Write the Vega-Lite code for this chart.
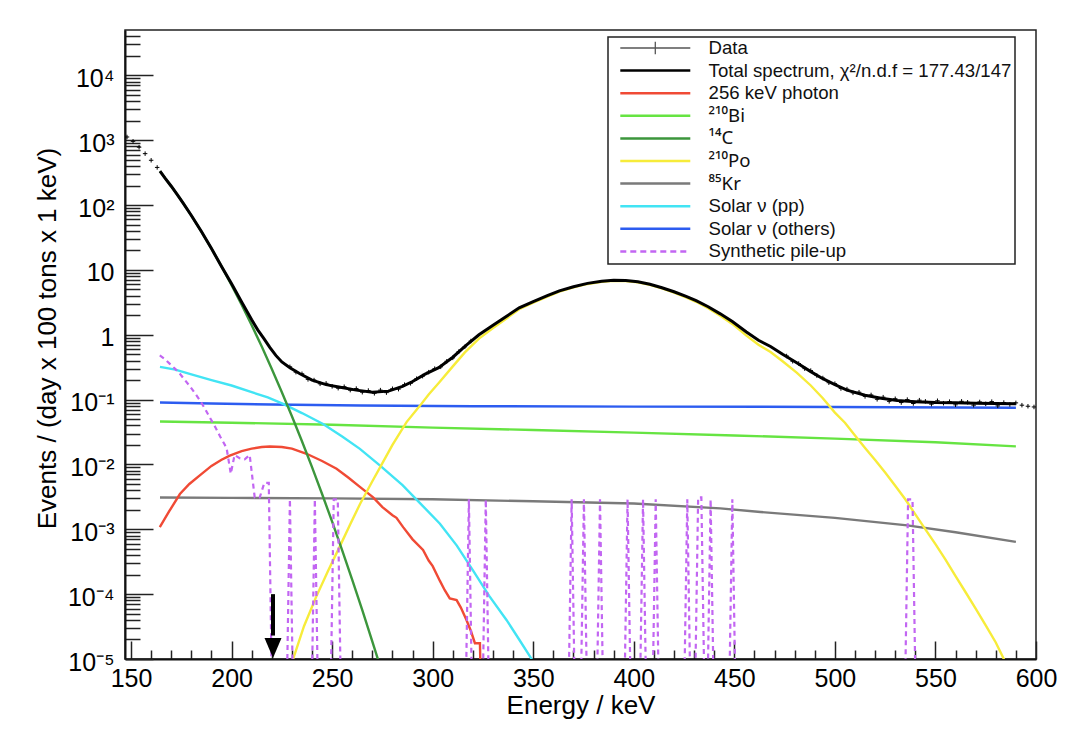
{
  "$schema": "https://vega.github.io/schema/vega-lite/v6.json",
  "width": 911,
  "height": 629,
  "autosize": {"type": "none"},
  "padding": {"left": 125, "top": 30, "right": 32, "bottom": 89},
  "background": "#ffffff",
  "config": {
    "font": "Liberation Sans",
    "view": {"stroke": "#222222", "strokeWidth": 1.5},
    "axis": {
      "grid": false,
      "domainColor": "#111111",
      "domainWidth": 2,
      "tickColor": "#222222",
      "tickWidth": 1.5,
      "ticks": true,
      "labelFont": "Liberation Sans",
      "labelFontSize": 25,
      "labelColor": "#000000",
      "labelOverlap": false,
      "labelFlush": false,
      "titleFont": "Liberation Sans",
      "titleFontSize": 26,
      "titleFontWeight": "normal",
      "titleColor": "#000000"
    }
  },
  "datasets": {
    "curves": [
      {"s": "Kr", "E": 164.4, "v": 0.0031}, {"s": "Kr", "E": 200, "v": 0.00305}, {"s": "Kr", "E": 250, "v": 0.003}, {"s": "Kr", "E": 300, "v": 0.0029}, {"s": "Kr", "E": 350, "v": 0.0027}, {"s": "Kr", "E": 400, "v": 0.0025}, {"s": "Kr", "E": 443, "v": 0.0021}, {"s": "Kr", "E": 463, "v": 0.00185}, {"s": "Kr", "E": 500, "v": 0.0015}, {"s": "Kr", "E": 536, "v": 0.00115}, {"s": "Kr", "E": 560, "v": 0.0009}, {"s": "Kr", "E": 590, "v": 0.00064},
      {"s": "Bi", "E": 164.4, "v": 0.046}, {"s": "Bi", "E": 200, "v": 0.044}, {"s": "Bi", "E": 250, "v": 0.041}, {"s": "Bi", "E": 300, "v": 0.037}, {"s": "Bi", "E": 350, "v": 0.034}, {"s": "Bi", "E": 400, "v": 0.031}, {"s": "Bi", "E": 450, "v": 0.028}, {"s": "Bi", "E": 500, "v": 0.025}, {"s": "Bi", "E": 550, "v": 0.022}, {"s": "Bi", "E": 590, "v": 0.019},
      {"s": "others", "E": 164.4, "v": 0.09}, {"s": "others", "E": 190, "v": 0.087}, {"s": "others", "E": 220, "v": 0.084}, {"s": "others", "E": 264, "v": 0.081}, {"s": "others", "E": 320, "v": 0.079}, {"s": "others", "E": 400, "v": 0.078}, {"s": "others", "E": 500, "v": 0.077}, {"s": "others", "E": 590, "v": 0.075},
      {"s": "pp", "E": 164.4, "v": 0.32}, {"s": "pp", "E": 172, "v": 0.29}, {"s": "pp", "E": 180, "v": 0.245}, {"s": "pp", "E": 190, "v": 0.2}, {"s": "pp", "E": 200, "v": 0.165}, {"s": "pp", "E": 210, "v": 0.13}, {"s": "pp", "E": 218, "v": 0.108}, {"s": "pp", "E": 225.6, "v": 0.086}, {"s": "pp", "E": 235, "v": 0.062}, {"s": "pp", "E": 245.5, "v": 0.042}, {"s": "pp", "E": 255, "v": 0.027}, {"s": "pp", "E": 263.8, "v": 0.0174}, {"s": "pp", "E": 273.7, "v": 0.0097}, {"s": "pp", "E": 285, "v": 0.0048}, {"s": "pp", "E": 295, "v": 0.0023}, {"s": "pp", "E": 303.6, "v": 0.00122}, {"s": "pp", "E": 312, "v": 0.00056}, {"s": "pp", "E": 320.1, "v": 0.00023}, {"s": "pp", "E": 328, "v": 0.000095}, {"s": "pp", "E": 336.7, "v": 0.00004}, {"s": "pp", "E": 343, "v": 0.00002}, {"s": "pp", "E": 349.2, "v": 0.00001}, {"s": "pp", "E": 351, "v": 0.000008},
      {"s": "Photon", "E": 164.3, "v": 0.00108}, {"s": "Photon", "E": 169, "v": 0.0019}, {"s": "Photon", "E": 174.3, "v": 0.0035}, {"s": "Photon", "E": 179, "v": 0.005}, {"s": "Photon", "E": 184.2, "v": 0.0068}, {"s": "Photon", "E": 190, "v": 0.0095}, {"s": "Photon", "E": 195, "v": 0.0118}, {"s": "Photon", "E": 199.1, "v": 0.0137}, {"s": "Photon", "E": 205, "v": 0.016}, {"s": "Photon", "E": 210, "v": 0.0175}, {"s": "Photon", "E": 215, "v": 0.0186}, {"s": "Photon", "E": 219, "v": 0.0189}, {"s": "Photon", "E": 225, "v": 0.0186}, {"s": "Photon", "E": 230, "v": 0.0175}, {"s": "Photon", "E": 237.3, "v": 0.0146}, {"s": "Photon", "E": 245, "v": 0.0113}, {"s": "Photon", "E": 252.2, "v": 0.0086}, {"s": "Photon", "E": 258, "v": 0.0063}, {"s": "Photon", "E": 263.8, "v": 0.0045}, {"s": "Photon", "E": 270.4, "v": 0.0031}, {"s": "Photon", "E": 275, "v": 0.0022}, {"s": "Photon", "E": 280, "v": 0.00165}, {"s": "Photon", "E": 282, "v": 0.0015}, {"s": "Photon", "E": 285.3, "v": 0.00108}, {"s": "Photon", "E": 290, "v": 0.0007}, {"s": "Photon", "E": 295.2, "v": 0.00048}, {"s": "Photon", "E": 298, "v": 0.00033}, {"s": "Photon", "E": 300, "v": 0.00027}, {"s": "Photon", "E": 303.6, "v": 0.00016}, {"s": "Photon", "E": 306, "v": 0.000115}, {"s": "Photon", "E": 308.5, "v": 0.000086}, {"s": "Photon", "E": 311.9, "v": 0.000081}, {"s": "Photon", "E": 314, "v": 0.000062}, {"s": "Photon", "E": 316.8, "v": 0.00004}, {"s": "Photon", "E": 319, "v": 0.000027}, {"s": "Photon", "E": 321, "v": 0.0000175}, {"s": "Photon", "E": 323.5, "v": 0.0000175}, {"s": "Photon", "E": 323.8, "v": 0.000006},
      {"s": "Po", "E": 229, "v": 0.000007}, {"s": "Po", "E": 230.6, "v": 0.00001}, {"s": "Po", "E": 236, "v": 0.000032}, {"s": "Po", "E": 242, "v": 0.00009}, {"s": "Po", "E": 248, "v": 0.00023}, {"s": "Po", "E": 254, "v": 0.00056}, {"s": "Po", "E": 259, "v": 0.0012}, {"s": "Po", "E": 264, "v": 0.0025}, {"s": "Po", "E": 270, "v": 0.0055}, {"s": "Po", "E": 275, "v": 0.0105}, {"s": "Po", "E": 280, "v": 0.02}, {"s": "Po", "E": 287, "v": 0.045}, {"s": "Po", "E": 293.6, "v": 0.08}, {"s": "Po", "E": 298, "v": 0.12}, {"s": "Po", "E": 303, "v": 0.18}, {"s": "Po", "E": 310, "v": 0.325}, {"s": "Po", "E": 316, "v": 0.535}, {"s": "Po", "E": 323, "v": 0.87}, {"s": "Po", "E": 330, "v": 1.27}, {"s": "Po", "E": 336, "v": 1.72}, {"s": "Po", "E": 343, "v": 2.47}, {"s": "Po", "E": 350, "v": 3.12}, {"s": "Po", "E": 357, "v": 3.87}, {"s": "Po", "E": 363, "v": 4.62}, {"s": "Po", "E": 370, "v": 5.37}, {"s": "Po", "E": 377, "v": 6.07}, {"s": "Po", "E": 384, "v": 6.57}, {"s": "Po", "E": 390, "v": 6.77}, {"s": "Po", "E": 396, "v": 6.72}, {"s": "Po", "E": 402, "v": 6.42}, {"s": "Po", "E": 408, "v": 5.87}, {"s": "Po", "E": 414, "v": 5.17}, {"s": "Po", "E": 420, "v": 4.47}, {"s": "Po", "E": 426, "v": 3.77}, {"s": "Po", "E": 431, "v": 3.22}, {"s": "Po", "E": 437, "v": 2.57}, {"s": "Po", "E": 443, "v": 1.97}, {"s": "Po", "E": 449, "v": 1.47}, {"s": "Po", "E": 456, "v": 0.97}, {"s": "Po", "E": 462, "v": 0.7}, {"s": "Po", "E": 468, "v": 0.54}, {"s": "Po", "E": 474, "v": 0.39}, {"s": "Po", "E": 481, "v": 0.26}, {"s": "Po", "E": 488, "v": 0.165}, {"s": "Po", "E": 494, "v": 0.105}, {"s": "Po", "E": 500, "v": 0.063}, {"s": "Po", "E": 505, "v": 0.044}, {"s": "Po", "E": 510, "v": 0.028}, {"s": "Po", "E": 515, "v": 0.018}, {"s": "Po", "E": 520, "v": 0.0117}, {"s": "Po", "E": 525, "v": 0.0075}, {"s": "Po", "E": 530, "v": 0.0047}, {"s": "Po", "E": 535, "v": 0.0029}, {"s": "Po", "E": 540, "v": 0.0017}, {"s": "Po", "E": 545, "v": 0.001}, {"s": "Po", "E": 550, "v": 0.00059}, {"s": "Po", "E": 555, "v": 0.00034}, {"s": "Po", "E": 560, "v": 0.00019}, {"s": "Po", "E": 565, "v": 0.000107}, {"s": "Po", "E": 570, "v": 0.00006}, {"s": "Po", "E": 575, "v": 0.000033}, {"s": "Po", "E": 580, "v": 0.000018}, {"s": "Po", "E": 584, "v": 0.00001}, {"s": "Po", "E": 586, "v": 0.000007},
      {"s": "C", "E": 164.4, "v": 331}, {"s": "C", "E": 170, "v": 195}, {"s": "C", "E": 175, "v": 118}, {"s": "C", "E": 180, "v": 68.9}, {"s": "C", "E": 185, "v": 38.9}, {"s": "C", "E": 190, "v": 21.3}, {"s": "C", "E": 195, "v": 11.35}, {"s": "C", "E": 200, "v": 5.83}, {"s": "C", "E": 205, "v": 2.9}, {"s": "C", "E": 210, "v": 1.4}, {"s": "C", "E": 215, "v": 0.656}, {"s": "C", "E": 220, "v": 0.297}, {"s": "C", "E": 225, "v": 0.13}, {"s": "C", "E": 230, "v": 0.0553}, {"s": "C", "E": 235, "v": 0.0228}, {"s": "C", "E": 240, "v": 0.00908}, {"s": "C", "E": 245, "v": 0.0035}, {"s": "C", "E": 250, "v": 0.00131}, {"s": "C", "E": 255, "v": 0.000474}, {"s": "C", "E": 260, "v": 0.000166}, {"s": "C", "E": 265, "v": 0.0000566}, {"s": "C", "E": 270, "v": 0.0000186}, {"s": "C", "E": 274, "v": 0.0000075}
    ],
    "total": [
      {"E": 164.4, "v": 333}, {"E": 167, "v": 258}, {"E": 170, "v": 195}, {"E": 173, "v": 145}, {"E": 176, "v": 106}, {"E": 180, "v": 69}, {"E": 185, "v": 39}, {"E": 190, "v": 21.3}, {"E": 195, "v": 11.3}, {"E": 200, "v": 6.1}, {"E": 205, "v": 3.2}, {"E": 210, "v": 1.7}, {"E": 213, "v": 1.19}, {"E": 216, "v": 0.88}, {"E": 219, "v": 0.64}, {"E": 222, "v": 0.48}, {"E": 225, "v": 0.38}, {"E": 229, "v": 0.31}, {"E": 234, "v": 0.25}, {"E": 240, "v": 0.2}, {"E": 247, "v": 0.17}, {"E": 254, "v": 0.155}, {"E": 262, "v": 0.14}, {"E": 270, "v": 0.13}, {"E": 278, "v": 0.135}, {"E": 285, "v": 0.16}, {"E": 290, "v": 0.19}, {"E": 296, "v": 0.245}, {"E": 303, "v": 0.31}, {"E": 310, "v": 0.45}, {"E": 316, "v": 0.66}, {"E": 323, "v": 1.0}, {"E": 330, "v": 1.4}, {"E": 336, "v": 1.86}, {"E": 343, "v": 2.6}, {"E": 350, "v": 3.25}, {"E": 357, "v": 4.0}, {"E": 363, "v": 4.75}, {"E": 370, "v": 5.5}, {"E": 377, "v": 6.2}, {"E": 384, "v": 6.7}, {"E": 390, "v": 6.9}, {"E": 396, "v": 6.85}, {"E": 402, "v": 6.55}, {"E": 408, "v": 6.0}, {"E": 414, "v": 5.3}, {"E": 420, "v": 4.6}, {"E": 426, "v": 3.9}, {"E": 431, "v": 3.35}, {"E": 437, "v": 2.7}, {"E": 443, "v": 2.1}, {"E": 449, "v": 1.6}, {"E": 456, "v": 1.1}, {"E": 462, "v": 0.82}, {"E": 468, "v": 0.66}, {"E": 474, "v": 0.5}, {"E": 481, "v": 0.37}, {"E": 488, "v": 0.27}, {"E": 494, "v": 0.21}, {"E": 500, "v": 0.17}, {"E": 506, "v": 0.14}, {"E": 515, "v": 0.117}, {"E": 523, "v": 0.105}, {"E": 531, "v": 0.097}, {"E": 540, "v": 0.093}, {"E": 550, "v": 0.09}, {"E": 560, "v": 0.089}, {"E": 570, "v": 0.088}, {"E": 580, "v": 0.087}, {"E": 590, "v": 0.086}
    ],
    "pileup": [
      {"E": 164.3, "v": 0.48}, {"E": 166.8, "v": 0.42}, {"E": 169.3, "v": 0.355}, {"E": 171.8, "v": 0.3}, {"E": 174.3, "v": 0.25}, {"E": 176.8, "v": 0.2}, {"E": 179.3, "v": 0.16}, {"E": 181.8, "v": 0.125}, {"E": 184.3, "v": 0.097}, {"E": 186.8, "v": 0.072}, {"E": 189.3, "v": 0.052}, {"E": 191.8, "v": 0.038}, {"E": 194.3, "v": 0.027}, {"E": 197.5, "v": 0.018}, {"E": 199.6, "v": 0.0072}, {"E": 201.5, "v": 0.014}, {"E": 204, "v": 0.0125}, {"E": 206.5, "v": 0.012}, {"E": 209, "v": 0.014}, {"E": 211.5, "v": 0.0031}, {"E": 214, "v": 0.0031}, {"E": 216.3, "v": 0.0052}, {"E": 218.5, "v": 0.0052}, {"E": 220.8, "v": 0.0000001},
      {"E": 226.7, "v": 0.0000001}, {"E": 229, "v": 0.0029}, {"E": 231.3, "v": 0.0000001},
      {"E": 239.1, "v": 0.0000001}, {"E": 241.4, "v": 0.0029}, {"E": 243.7, "v": 0.0000001},
      {"E": 248.5, "v": 0.0000001}, {"E": 250.8, "v": 0.0029}, {"E": 252.8, "v": 0.0029}, {"E": 255.1, "v": 0.0000001},
      {"E": 315.7, "v": 0.0000001}, {"E": 318, "v": 0.0029}, {"E": 320.3, "v": 0.0000001},
      {"E": 324.1, "v": 0.0000001}, {"E": 326.4, "v": 0.0029}, {"E": 328.7, "v": 0.0000001},
      {"E": 366.8, "v": 0.0000001}, {"E": 369.1, "v": 0.0029}, {"E": 371.4, "v": 0.0000001},
      {"E": 372.9, "v": 0.0000001}, {"E": 375.2, "v": 0.0029}, {"E": 377.5, "v": 0.0000001},
      {"E": 380.9, "v": 0.0000001}, {"E": 383.2, "v": 0.0029}, {"E": 385.5, "v": 0.0000001},
      {"E": 394.6, "v": 0.0000001}, {"E": 396.9, "v": 0.0029}, {"E": 399.2, "v": 0.0000001},
      {"E": 402.3, "v": 0.0000001}, {"E": 404.6, "v": 0.0029}, {"E": 406.9, "v": 0.0000001},
      {"E": 408.6, "v": 0.0000001}, {"E": 410.9, "v": 0.0029}, {"E": 413.2, "v": 0.0000001},
      {"E": 424.3, "v": 0.0000001}, {"E": 426.6, "v": 0.0029}, {"E": 428.9, "v": 0.0000001},
      {"E": 429.7, "v": 0.0000001}, {"E": 432.0, "v": 0.0031}, {"E": 433.6, "v": 0.0031}, {"E": 435.9, "v": 0.0000001},
      {"E": 438.2, "v": 0.0029}, {"E": 440.5, "v": 0.0000001},
      {"E": 446.7, "v": 0.0000001}, {"E": 449, "v": 0.0029}, {"E": 451.3, "v": 0.0000001},
      {"E": 534.1, "v": 0.0000001}, {"E": 536.4, "v": 0.0029}, {"E": 538.6, "v": 0.0029}, {"E": 540.9, "v": 0.0000001},
      {"E": 590, "v": 0.0000001}
    ],
    "data": [
      {"E": 148, "v": 1120}, {"E": 151, "v": 960}, {"E": 154, "v": 780}, {"E": 157, "v": 620}, {"E": 160, "v": 490}, {"E": 163, "v": 380},
      {"E": 229, "v": 0.32}, {"E": 232, "v": 0.265}, {"E": 235, "v": 0.25}, {"E": 238, "v": 0.205}, {"E": 241, "v": 0.2}, {"E": 244, "v": 0.175}, {"E": 247, "v": 0.178}, {"E": 250, "v": 0.16}, {"E": 253, "v": 0.15}, {"E": 256, "v": 0.158}, {"E": 259, "v": 0.14}, {"E": 262, "v": 0.148}, {"E": 265, "v": 0.13}, {"E": 268, "v": 0.138}, {"E": 271, "v": 0.125}, {"E": 274, "v": 0.14}, {"E": 277, "v": 0.128}, {"E": 280, "v": 0.147}, {"E": 283, "v": 0.145}, {"E": 286, "v": 0.17}, {"E": 289, "v": 0.178}, {"E": 292, "v": 0.21}, {"E": 295, "v": 0.23}, {"E": 298, "v": 0.265}, {"E": 301, "v": 0.3}, {"E": 304, "v": 0.32}, {"E": 307, "v": 0.39}, {"E": 310, "v": 0.44}, {"E": 313, "v": 0.55}, {"E": 316, "v": 0.65}, {"E": 319, "v": 0.8},
      {"E": 476, "v": 0.47}, {"E": 479, "v": 0.39}, {"E": 482, "v": 0.36}, {"E": 485, "v": 0.3}, {"E": 488, "v": 0.28}, {"E": 491, "v": 0.235}, {"E": 494, "v": 0.215}, {"E": 497, "v": 0.182}, {"E": 500, "v": 0.176}, {"E": 503, "v": 0.148}, {"E": 506, "v": 0.145}, {"E": 509, "v": 0.127}, {"E": 512, "v": 0.13}, {"E": 515, "v": 0.112}, {"E": 518, "v": 0.118}, {"E": 521, "v": 0.101}, {"E": 524, "v": 0.109}, {"E": 527, "v": 0.094}, {"E": 530, "v": 0.103}, {"E": 533, "v": 0.09}, {"E": 536, "v": 0.1}, {"E": 539, "v": 0.087}, {"E": 542, "v": 0.098}, {"E": 545, "v": 0.094}, {"E": 548, "v": 0.085}, {"E": 551, "v": 0.096}, {"E": 554, "v": 0.088}, {"E": 557, "v": 0.093}, {"E": 560, "v": 0.083}, {"E": 563, "v": 0.094}, {"E": 566, "v": 0.091}, {"E": 569, "v": 0.082}, {"E": 572, "v": 0.092}, {"E": 575, "v": 0.086}, {"E": 578, "v": 0.093}, {"E": 581, "v": 0.08}, {"E": 584, "v": 0.09}, {"E": 587, "v": 0.084}, {"E": 590, "v": 0.089}, {"E": 593, "v": 0.082}, {"E": 596, "v": 0.079}, {"E": 599, "v": 0.077}
    ],
    "arrow": [{"E": 220.6, "v": 0.0001, "v2": 0.000023}],
    "arrowhead": [{"E": 220.6, "v": 0.0000148}]
  },
  "encoding": {
    "x": {
      "field": "E", "type": "quantitative",
      "scale": {"domain": [147, 600], "nice": false, "zero": false},
      "axis": {
        "title": "Energy / keV",
        "titleY": 54,
        "titleBaseline": "alphabetic",
        "values": [150,160,170,180,190,200,210,220,230,240,250,260,270,280,290,300,310,320,330,340,350,360,370,380,390,400,410,420,430,440,450,460,470,480,490,500,510,520,530,540,550,560,570,580,590,600],
        "labelExpr": "datum.value % 50 == 0 ? datum.label : ''",
        "tickSize": {"condition": {"test": "datum.value % 50 == 0", "value": -18}, "value": -9},
        "labelPadding": 25
      }
    },
    "y": {
      "field": "v", "type": "quantitative",
      "scale": {"type": "log", "domain": [0.00001, 50000], "nice": false},
      "axis": {
        "title": "Events / (day x 100 tons x 1 keV)",
        "titleX": -78,
        "titleY": 308,
        "titleAngle": -90,
        "titleBaseline": "middle",
        "values": [0.00001,0.00002,0.00003,0.00004,0.00005,0.00006,0.00007,0.00008,0.00009,0.0001,0.0002,0.0003,0.0004,0.0005,0.0006,0.0007,0.0008,0.0009,0.001,0.002,0.003,0.004,0.005,0.006,0.007,0.008,0.009,0.01,0.02,0.03,0.04,0.05,0.06,0.07,0.08,0.09,0.1,0.2,0.3,0.4,0.5,0.6,0.7,0.8,0.9,1,2,3,4,5,6,7,8,9,10,20,30,40,50,60,70,80,90,100,200,300,400,500,600,700,800,900,1000,2000,3000,4000,5000,6000,7000,8000,9000,10000,20000,30000,40000],
        "labelExpr": "abs(log(datum.value)/LN10 - round(log(datum.value)/LN10)) > 0.01 ? '' : ['10⁻⁵','10⁻⁴','10⁻³','10⁻²','10⁻¹','1','10','10²','10³','10⁴'][round(log(datum.value)/LN10)+5]",
        "tickSize": {"condition": {"test": "abs(log(datum.value)/LN10 - round(log(datum.value)/LN10)) < 0.01", "value": -28}, "value": -15},
        "labelPadding": 39,
        "labelOffset": 3,
        "labelBaseline": "middle"
      }
    }
  },
  "layer": [
    {
      "data": {"name": "curves"},
      "mark": {"type": "line", "clip": true, "strokeWidth": 2.4},
      "encoding": {
        "color": {
          "field": "s", "type": "nominal",
          "scale": {
            "domain": ["Data", "Total", "Photon", "Bi", "C", "Po", "Kr", "pp", "others", "pileup"],
            "range": ["#555555", "#000000", "#f04a35", "#66e442", "#3c963c", "#f7ec3a", "#7a7a7a", "#42e4f4", "#2c5cf0", "#c266f2"]
          },
          "legend": {
            "title": null,
            "orient": "none",
            "legendX": 483,
            "legendY": 7,
            "fillColor": "#ffffff",
            "strokeColor": "#222222",
            "padding": 3,
            "symbolType": "stroke",
            "symbolSize": 4900,
            "symbolStrokeWidth": 2.5,
            "symbolOffset": 35,
            "labelOffset": 44,
            "labelFont": "Liberation Sans",
            "labelFontSize": 18.6,
            "labelColor": "#111111",
            "labelLimit": 420,
            "clipHeight": 16,
            "rowPadding": 3.6,
            "labelExpr": "datum.label == 'Total' ? 'Total spectrum, χ²/n.d.f = 177.43/147' : datum.label == 'Photon' ? '256 keV photon' : datum.label == 'Bi' ? '²¹⁰Bi' : datum.label == 'C' ? '¹⁴C' : datum.label == 'Po' ? '²¹⁰Po' : datum.label == 'Kr' ? '⁸⁵Kr' : datum.label == 'pp' ? 'Solar ν (pp)' : datum.label == 'others' ? 'Solar ν (others)' : datum.label == 'pileup' ? 'Synthetic pile-up' : datum.label",
            "encode": {
              "legend": {"update": {"strokeWidth": {"value": 1.5}}},
              "labels": {
                "update": {
                  "font": {"signal": "(datum.value == 'Bi' || datum.value == 'C' || datum.value == 'Po' || datum.value == 'Kr') ? 'Noto Sans' : 'Liberation Sans'"}
                }
              },
              "symbols": {
                "update": {
                  "shape": {"signal": "datum.value == 'Data' ? 'M-1,0H1M0,-0.18V0.18' : 'stroke'"},
                  "strokeDash": {"signal": "datum.value == 'pileup' ? [6, 4] : [1, 0]"},
                  "strokeWidth": {"signal": "datum.value == 'Data' ? 1.3 : 2.5"}
                }
              }
            }
          }
        }
      }
    },
    {
      "data": {"name": "pileup"},
      "mark": {"type": "line", "clip": true, "strokeWidth": 2.2, "strokeDash": [5, 4], "color": "#c266f2"}
    },
    {
      "data": {"name": "total"},
      "mark": {"type": "line", "clip": true, "strokeWidth": 3, "color": "#000000"}
    },
    {
      "data": {"name": "data"},
      "mark": {"type": "point", "clip": true, "shape": "M-1,0H1M0,-1V1", "size": 20, "filled": false, "stroke": "#000000", "strokeWidth": 1, "opacity": 1}
    },
    {
      "data": {"name": "arrow"},
      "mark": {"type": "rule", "color": "#000000", "strokeWidth": 4},
      "encoding": {"y2": {"field": "v2"}}
    },
    {
      "data": {"name": "arrowhead"},
      "mark": {"type": "point", "shape": "M-0.85,-1L0.85,-1L0,1Z", "size": 400, "filled": true, "color": "#000000", "opacity": 1}
    }
  ]
}
